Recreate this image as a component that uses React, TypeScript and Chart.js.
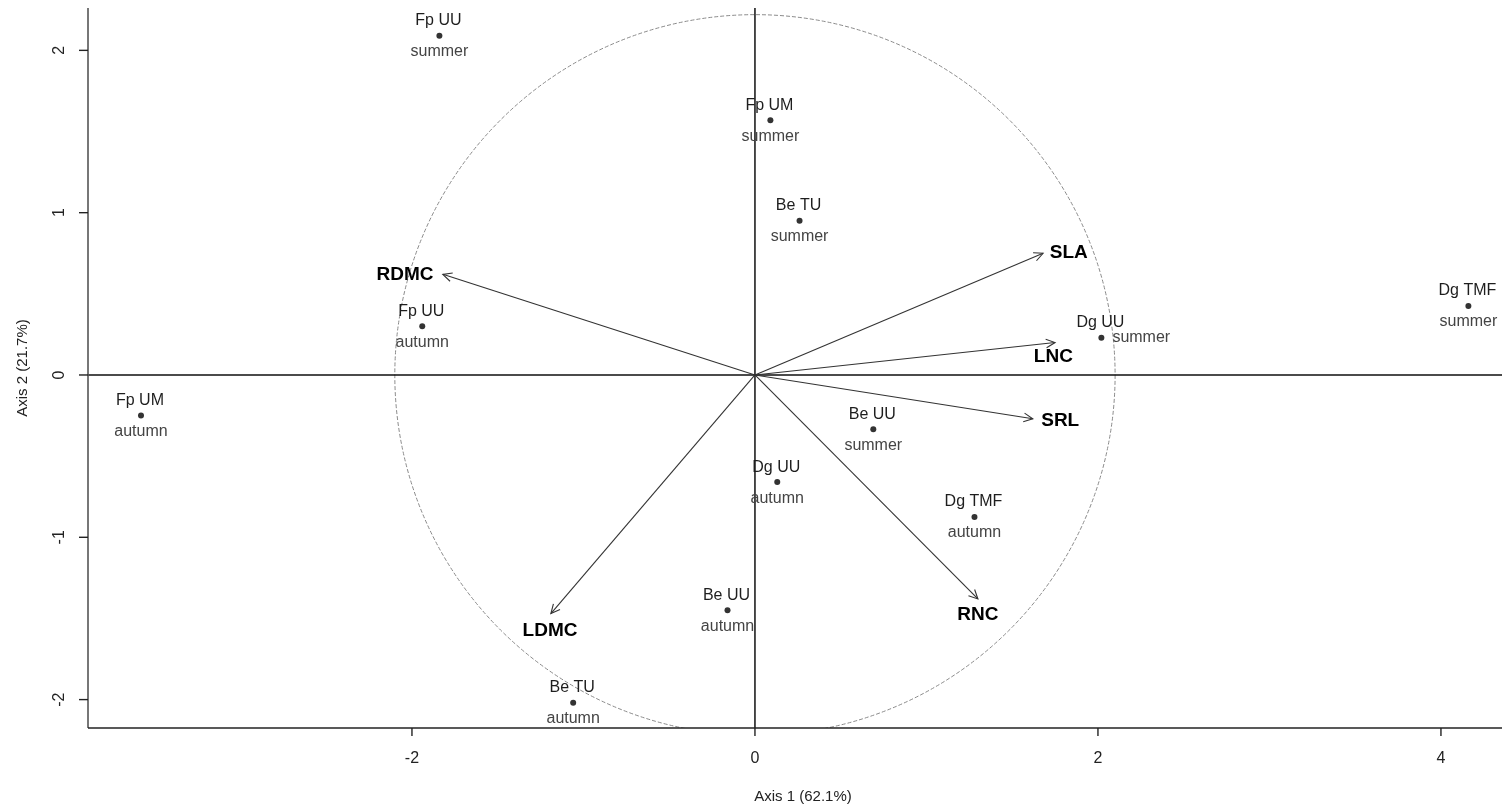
import React, { useEffect, useRef } from "react";
import { Chart, registerables } from "chart.js";

Chart.register(...registerables);

// ---- data ----
const pointNames = ["Fp UU", "Fp UM", "Be TU", "Fp UU", "Fp UM", "Dg UU", "Dg TMF", "Be UU", "Dg UU", "Dg TMF", "Be UU", "Be TU"];
const pointSeasons = ["summer", "summer", "summer", "autumn", "autumn", "summer", "summer", "summer", "autumn", "autumn", "autumn", "autumn"];
const pointX = [-1.84, 0.09, 0.26, -1.94, -3.58, 2.02, 4.16, 0.69, 0.13, 1.28, -0.16, -1.06];
const pointY = [2.09, 1.57, 0.95, 0.30, -0.25, 0.23, 0.425, -0.335, -0.66, -0.875, -1.45, -2.02];

const traitNames = ["RDMC", "SLA", "LNC", "SRL", "RNC", "LDMC"];
const traitX = [-1.82, 1.68, 1.75, 1.62, 1.30, -1.19];
const traitY = [0.62, 0.75, 0.20, -0.27, -1.38, -1.47];
const traitLabelX = [-2.04, 1.83, 1.74, 1.78, 1.30, -1.195];
const traitLabelY = [0.62, 0.75, 0.11, -0.28, -1.48, -1.575];

const circleRadiusX = 2.1;
const circleRadiusY = 2.22;

const xTicks = [-2, 0, 2, 4];
const yTicks = [-2, -1, 0, 1, 2];
const xTitle = "Axis 1 (62.1%)";
const yTitle = "Axis 2 (21.7%)";

const X_MIN = -3.889;
const X_MAX = 4.356;
const Y_MIN = -2.175;
const Y_MAX = 2.261;

// season label drawn to the right of the dot for this index (Dg UU summer)
const seasonRightIdx = new Set([5]);

const FONT = '"Liberation Sans", Arial, sans-serif';

const biplotPlugin = {
  id: "biplot",
  beforeDatasetsDraw(chart: any) {
    const { ctx, chartArea, scales } = chart;
    const xs = scales.x;
    const ys = scales.y;
    const cx = xs.getPixelForValue(0);
    const cy = ys.getPixelForValue(0);
    ctx.save();
    // correlation circle
    ctx.beginPath();
    ctx.rect(chartArea.left, chartArea.top, chartArea.right - chartArea.left, chartArea.bottom - chartArea.top);
    ctx.clip();
    const rx = Math.abs(xs.getPixelForValue(circleRadiusX) - cx);
    const ry = Math.abs(ys.getPixelForValue(circleRadiusY) - cy);
    ctx.beginPath();
    ctx.setLineDash([4, 2]);
    ctx.strokeStyle = "#8a8a8a";
    ctx.lineWidth = 1;
    ctx.ellipse(cx, cy, rx, ry, 0, 0, Math.PI * 2);
    ctx.stroke();
    ctx.setLineDash([]);
    // zero lines
    ctx.strokeStyle = "#111";
    ctx.lineWidth = 1.5;
    ctx.beginPath();
    ctx.moveTo(chartArea.left, cy);
    ctx.lineTo(chartArea.right, cy);
    ctx.moveTo(cx, chartArea.top);
    ctx.lineTo(cx, chartArea.bottom);
    ctx.stroke();
    ctx.restore();
  },
  afterDatasetsDraw(chart: any) {
    const { ctx, chartArea, scales } = chart;
    const xs = scales.x;
    const ys = scales.y;
    ctx.save();

    // arrow heads
    const x0 = xs.getPixelForValue(0);
    const y0 = ys.getPixelForValue(0);
    ctx.strokeStyle = "#333";
    ctx.lineWidth = 1.1;
    for (let i = 0; i < traitNames.length; i++) {
      const tx = xs.getPixelForValue(traitX[i]);
      const ty = ys.getPixelForValue(traitY[i]);
      const ang = Math.atan2(ty - y0, tx - x0);
      const len = 10;
      const spread = 0.45;
      ctx.beginPath();
      ctx.moveTo(tx - len * Math.cos(ang - spread), ty - len * Math.sin(ang - spread));
      ctx.lineTo(tx, ty);
      ctx.lineTo(tx - len * Math.cos(ang + spread), ty - len * Math.sin(ang + spread));
      ctx.stroke();
    }

    // trait labels
    ctx.font = `bold 19px ${FONT}`;
    ctx.fillStyle = "#000";
    ctx.textAlign = "center";
    ctx.textBaseline = "middle";
    for (let i = 0; i < traitNames.length; i++) {
      ctx.fillText(traitNames[i], xs.getPixelForValue(traitLabelX[i]), ys.getPixelForValue(traitLabelY[i]));
    }

    // point labels
    for (let i = 0; i < pointNames.length; i++) {
      const px = xs.getPixelForValue(pointX[i]);
      const py = ys.getPixelForValue(pointY[i]);
      ctx.font = `16px ${FONT}`;
      ctx.fillStyle = "#1e1e1e";
      ctx.textAlign = "center";
      ctx.textBaseline = "middle";
      ctx.fillText(pointNames[i], px - 1, py - 15);
      ctx.fillStyle = "#444";
      if (seasonRightIdx.has(i)) {
        ctx.textAlign = "left";
        ctx.fillText(pointSeasons[i], px + 11, py);
      } else {
        ctx.fillText(pointSeasons[i], px, py + 16);
      }
    }

    // axes frame
    ctx.lineWidth = 1.6;
    ctx.strokeStyle = "#555";
    ctx.beginPath();
    ctx.moveTo(chartArea.left, chartArea.top);
    ctx.lineTo(chartArea.left, chartArea.bottom);
    ctx.stroke();
    ctx.strokeStyle = "#222";
    ctx.beginPath();
    ctx.moveTo(chartArea.left, chartArea.bottom);
    ctx.lineTo(chart.width, chartArea.bottom);
    ctx.stroke();

    // ticks
    ctx.strokeStyle = "#222";
    ctx.lineWidth = 1.4;
    ctx.font = `16px ${FONT}`;
    ctx.fillStyle = "#222";
    for (const t of xTicks) {
      const px = xs.getPixelForValue(t);
      ctx.beginPath();
      ctx.moveTo(px, chartArea.bottom);
      ctx.lineTo(px, chartArea.bottom + 8);
      ctx.stroke();
      ctx.textAlign = "center";
      ctx.textBaseline = "middle";
      ctx.fillText(String(t), px, chartArea.bottom + 31);
    }
    for (const t of yTicks) {
      const py = ys.getPixelForValue(t);
      ctx.beginPath();
      ctx.moveTo(chartArea.left, py);
      ctx.lineTo(chartArea.left - 9, py);
      ctx.stroke();
      ctx.save();
      ctx.translate(chartArea.left - 28, py);
      ctx.rotate(-Math.PI / 2);
      ctx.textAlign = "center";
      ctx.textBaseline = "middle";
      ctx.fillText(String(t), 0, 0);
      ctx.restore();
    }

    // titles
    ctx.font = `15px ${FONT}`;
    ctx.fillStyle = "#222";
    ctx.textAlign = "center";
    ctx.textBaseline = "middle";
    ctx.fillText(xTitle, 803, chartArea.bottom + 69);
    ctx.save();
    ctx.translate(23, (chartArea.top + chartArea.bottom) / 2);
    ctx.rotate(-Math.PI / 2);
    ctx.fillText(yTitle, 0, 0);
    ctx.restore();

    ctx.restore();
  },
};

export default function App() {
  const canvasRef = useRef<HTMLCanvasElement | null>(null);

  useEffect(() => {
    const canvas = canvasRef.current;
    if (!canvas) return;
    const datasets: any[] = [
      {
        type: "scatter",
        data: pointX.map((x, i) => ({ x, y: pointY[i] })),
        pointRadius: 3,
        pointBackgroundColor: "#333",
        pointBorderWidth: 0,
        order: 0,
      },
    ];
    traitNames.forEach((_, i) => {
      datasets.push({
        type: "line",
        data: [
          { x: 0, y: 0 },
          { x: traitX[i], y: traitY[i] },
        ],
        showLine: true,
        borderColor: "#333",
        borderWidth: 1.1,
        pointRadius: 0,
        fill: false,
        order: 1,
      });
    });

    const chart = new Chart(canvas, {
      type: "scatter",
      data: { datasets },
      options: {
        animation: false,
        responsive: true,
        maintainAspectRatio: false,
        layout: { autoPadding: false, padding: { left: 88, top: 8, right: 0, bottom: 80 } },
        plugins: { legend: { display: false }, tooltip: { enabled: false } },
        scales: {
          x: { type: "linear", min: X_MIN, max: X_MAX, display: false },
          y: { type: "linear", min: Y_MIN, max: Y_MAX, display: false },
        },
      },
      plugins: [biplotPlugin],
    } as any);
    return () => chart.destroy();
  }, []);

  return (
    <div style={{ position: "absolute", left: 0, top: 0, width: 1502, height: 808, background: "#fff" }}>
      <canvas ref={canvasRef} />
    </div>
  );
}
